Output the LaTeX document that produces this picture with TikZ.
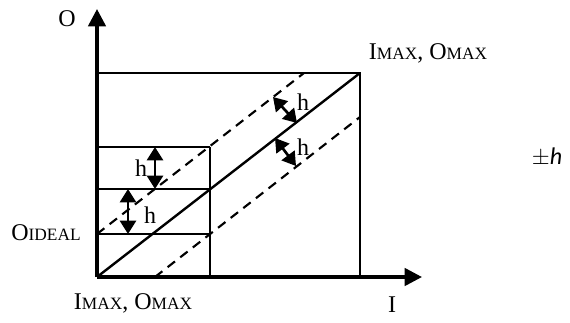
\documentclass[tikz,border=0pt]{standalone}
\usepackage{fontspec}
\setmainfont{Liberation Serif}
\newfontfamily\calfont{Carlito}
\usetikzlibrary{arrows.meta}

\newcommand{\smallcap}[1]{{\fontsize{13}{14}\selectfont #1}}

\tikzset{
  axis/.style={line width=2.6pt, -{Triangle[length=13pt, width=13pt]}},
  frame/.style={line width=1.8pt},
  band/.style={line width=1.6pt, dash pattern=on 7pt off 5pt},
  gap/.style={line width=2pt, {Triangle[length=10pt, width=12pt]}-{Triangle[length=10pt, width=12pt]}},
  lbl/.style={font=\fontsize{18}{21}\selectfont, inner sep=0pt},
}

\begin{document}
\begin{tikzpicture}[x=0.75pt, y=-0.75pt]
  \useasboundingbox (0,0) rectangle (570,322);
  % axes
  \coordinate (org) at (97,277);
  \coordinate (ytip) at (97,9);
  \coordinate (xtip) at (422,277);
  \draw[axis] (org) -- (ytip);
  \draw[axis] (org) -- (xtip);
  % outer box
  \coordinate (tl) at (97,73);
  \coordinate (tr) at (360,73);
  \coordinate (br) at (360,277);
  \draw[frame] (tl) -- (tr) -- (br);
  % inner cells
  \coordinate (ib) at (210,277);
  \foreach \n/\y in {1/147, 2/189, 3/234} {
    \coordinate (l\n) at (97,\y);
    \coordinate (r\n) at (210,\y);
    \draw[frame] (l\n) -- (r\n);
  }
  \draw[frame] (r1) -- (ib);
  % ideal line and tolerance band
  \draw[frame] (org) -- (tr);
  \coordinate (up0) at (97,234);
  \coordinate (up1) at (304,73);
  \coordinate (lo0) at (155,277);
  \coordinate (lo1) at (360,117);
  \draw[band] (up0) -- (up1);
  \draw[band] (lo0) -- (lo1);
  % h markers
  \coordinate (v1a) at (155,147);
  \coordinate (v1b) at (155,189);
  \coordinate (v2a) at (128,189);
  \coordinate (v2b) at (128,234);
  \draw[gap] (v1a) -- (v1b);
  \draw[gap] (v2a) -- (v2b);
  \coordinate (d1a) at (273,97);
  \coordinate (d1b) at (297,123);
  \coordinate (d2a) at (275,138);
  \coordinate (d2b) at (296,166);
  \draw[gap] (d1a) -- (d1b);
  \draw[gap] (d2a) -- (d2b);
  \node[lbl] (h1) at (141,168) {h};
  \node[lbl] (h2) at (150,215) {h};
  \node[lbl] (h3) at (303,102) {h};
  \node[lbl] (h4) at (303,147) {h};
  % labels
  \node[lbl] (oax) at (67,19) {O};
  \node[lbl] (iax) at (392,305) {I};
  \node[lbl] (maxtop) at (428,53) {I\smallcap{MAX}, O\smallcap{MAX}};
  \node[lbl] (maxbot) at (133,303) {I\smallcap{MAX}, O\smallcap{MAX}};
  \node[lbl] (ideal) at (46,233) {O\smallcap{IDEAL}};
  \node[font=\calfont\fontsize{18}{21}\selectfont, inner sep=0pt] (pm) at (547,157) {$\pm$\textit{h}};
\end{tikzpicture}
\end{document}
